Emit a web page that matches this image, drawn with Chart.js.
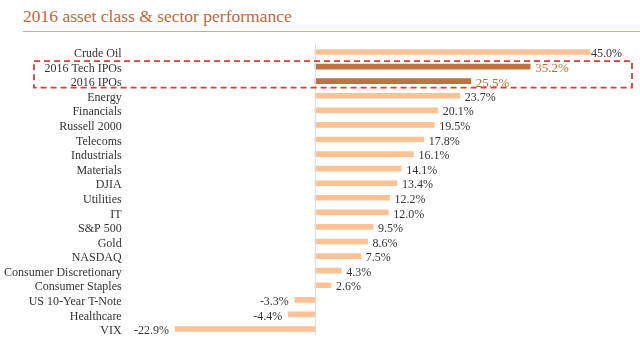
<!DOCTYPE html>
<html>
<head>
<meta charset="utf-8">
<script src="https://cdn.jsdelivr.net/npm/chart.js@4.4.1/dist/chart.umd.min.js"></script>
<style>
  html, body { margin: 0; padding: 0; background: #fff; }
  #wrap { position: relative; width: 640px; height: 360px; }
  #title { position: absolute; left: 23px; top: 6px; font-family: "Liberation Serif", serif; font-size: 17.5px; color: #c0683a; white-space: nowrap; }
  #rule { position: absolute; left: 23px; top: 31px; width: 617px; height: 1px; background: #dba584; }
  canvas { position: absolute; left: 0; top: 0; }
</style>
</head>
<body>
<div id="wrap">
  <div id="title">2016 asset class &amp; sector performance</div>
  <div id="rule"></div>
  <canvas id="c" width="640" height="360"></canvas>
</div>
<script>
const categories = ["Crude Oil", "2016 Tech IPOs", "2016 IPOs", "Energy", "Financials", "Russell 2000", "Telecoms", "Industrials", "Materials", "DJIA", "Utilities", "IT", "S&P 500", "Gold", "NASDAQ", "Consumer Discretionary", "Consumer Staples", "US 10-Year T-Note", "Healthcare", "VIX"];
const returns = [45.0, 35.2, 25.5, 23.7, 20.1, 19.5, 17.8, 16.1, 14.1, 13.4, 12.2, 12.0, 9.5, 8.6, 7.5, 4.3, 2.6, -3.3, -4.4, -22.9];
const highlighted = ["2016 Tech IPOs", "2016 IPOs"];

const LIGHT = "#fdc294";
const DARK = "#bf723d";
const FONT = "'Liberation Serif', serif";

const overlay = {
  id: "overlay",
  afterDatasetsDraw(chart) {
    const ctx = chart.ctx;
    const xs = chart.scales.x, ys = chart.scales.y;
    const zero = xs.getPixelForValue(0);
    ctx.save();
    // zero axis line
    ctx.strokeStyle = "#dddddd";
    ctx.lineWidth = 1;
    ctx.beginPath();
    ctx.moveTo(Math.round(zero) + 0.5, chart.chartArea.top);
    ctx.lineTo(Math.round(zero) + 0.5, chart.chartArea.bottom - 1);
    ctx.stroke();
    // category labels
    ctx.textBaseline = "middle";
    ctx.textAlign = "right";
    ctx.font = "12px " + FONT;
    ctx.fillStyle = "#333333";
    categories.forEach((c, i) => {
      ctx.fillText(c, chart.chartArea.left - 10, ys.getPixelForValue(i) + 2);
    });
    // value labels
    const meta = chart.getDatasetMeta(0);
    meta.data.forEach((bar, i) => {
      const v = returns[i];
      const hl = highlighted.includes(categories[i]);
      ctx.font = (hl ? "13px " : "12px ") + FONT;
      ctx.fillStyle = hl ? "#c0682e" : "#333333";
      const txt = v.toFixed(1) + "%";
      if (v >= 0) {
        ctx.textAlign = "left";
        ctx.fillText(txt, bar.x + (i === 0 ? 1 : 5), bar.y + 2);
      } else {
        ctx.textAlign = "right";
        ctx.fillText(txt, bar.x - 6, bar.y + 2);
      }
    });
    // dashed highlight box
    const y1 = ys.getPixelForValue(1) - 5.5;
    const y2 = ys.getPixelForValue(2) + 6.5;
    ctx.strokeStyle = "#e03a32";
    ctx.lineWidth = 1.8;
    ctx.setLineDash([6, 4]);
    ctx.strokeRect(34, y1, 598, y2 - y1);
    ctx.restore();
  }
};

new Chart(document.getElementById("c"), {
  type: "bar",
  data: {
    labels: categories,
    datasets: [{
      data: returns,
      backgroundColor: categories.map(c => highlighted.includes(c) ? DARK : LIGHT),
      barThickness: 5,
      borderWidth: 0
    }]
  },
  options: {
    indexAxis: "y",
    responsive: false,
    animation: false,
    layout: { padding: { top: 44.7, bottom: 23.7, left: 0, right: 19.4 } },
    plugins: { legend: { display: false }, tooltip: { enabled: false } },
    scales: {
      x: {
        min: -30, max: 50,
        display: false
      },
      y: {
        grid: { display: false, drawTicks: false },
        border: { display: false },
        afterFit(scale) { scale.width = 131.7; },
        ticks: { display: false, autoSkip: false }
      }
    }
  },
  plugins: [overlay]
});
</script>
</body>
</html>
